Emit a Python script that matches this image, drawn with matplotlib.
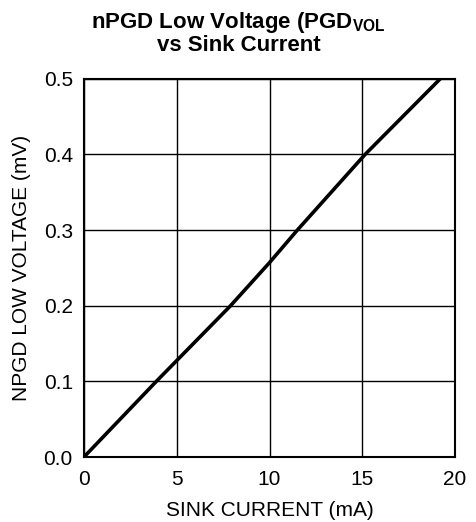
import numpy as np
import matplotlib.pyplot as plt

plt.rcParams['font.family'] = ['Liberation Sans', 'DejaVu Sans']
plt.rcParams['mathtext.fontset'] = 'custom'
plt.rcParams['mathtext.rm'] = 'Liberation Sans'
plt.rcParams['mathtext.bf'] = 'Liberation Sans:bold'

# Valores
corrente = [0, 3.9, 7.9, 10, 11.5, 15.15, 19.2]
tensao = [0, 0.1, 0.2, 0.257, 0.3, 0.4, 0.5]
xticks = [0, 5, 10, 15, 20]
yticks = [0.0, 0.1, 0.2, 0.3, 0.4, 0.5]

fig = plt.figure(figsize=(4.77, 5.22), dpi=100)
ax = fig.add_axes([0.176, 0.1245, 0.778, 0.7245])

ax.plot(corrente, tensao, color="black", lw=2.6, solid_capstyle="butt")
ax.set_xlim(0, 20)
ax.set_ylim(0, 0.5)
ax.set_xticks(xticks)
ax.set_yticks(yticks)
ax.set_yticklabels(["%.1f" % v for v in yticks])
ax.grid(True, color="black", lw=1.0)
for s in ax.spines.values():
    s.set_linewidth(1.5)
    s.set_color("black")
ax.tick_params(length=0, labelsize=15)
ax.tick_params(axis="x", pad=9)
ax.tick_params(axis="y", pad=8)

ax.set_xlabel("SINK CURRENT (mA)", fontsize=15, labelpad=9)
ax.set_ylabel("NPGD LOW VOLTAGE (mV)", fontsize=15, labelpad=9)

fig.text(0.5, 0.957, r"nPGD Low Voltage (PGD$_{\mathbf{VOL}}$", ha="center", va="center",
         fontsize=16, fontweight="bold")
fig.text(0.5, 0.913, "vs Sink Current", ha="center", va="center",
         fontsize=16, fontweight="bold")

fig.savefig("out.png", dpi=100)
